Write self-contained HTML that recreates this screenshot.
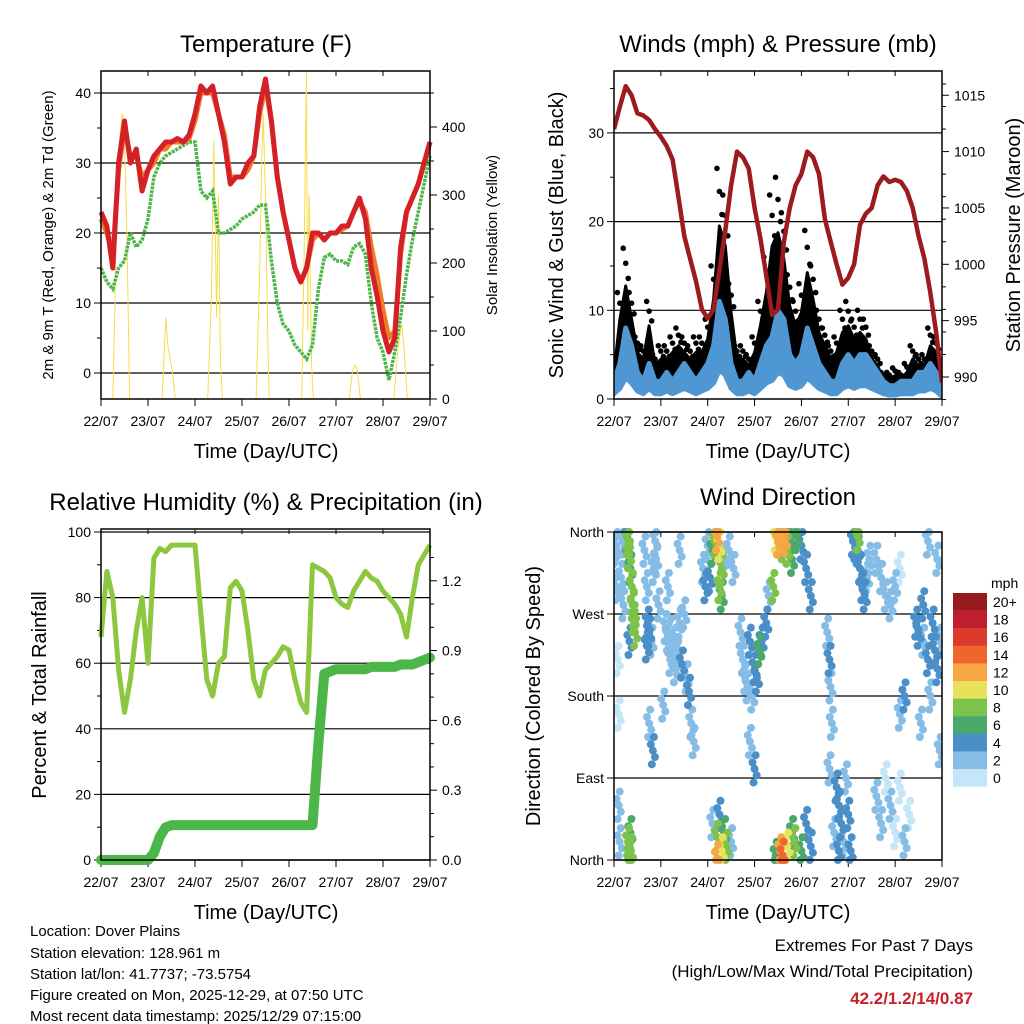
<!DOCTYPE html>
<html><head><meta charset="utf-8"><style>
body{margin:0;background:#fff}
svg{display:block;font-family:"Liberation Sans",sans-serif}
</style></head><body>
<svg id="s" width="1024" height="1024" viewBox="0 0 1024 1024" xmlns="http://www.w3.org/2000/svg">
<rect width="1024" height="1024" fill="#fff"/>
<g id="g1"></g>
<g id="g2"></g>
<g id="g3"></g>
<g id="g4"></g>
<text x="266" y="52" font-size="24" text-anchor="middle">Temperature (F)</text>
<text x="778" y="52" font-size="24" text-anchor="middle">Winds (mph) &amp; Pressure (mb)</text>
<text x="266" y="510" font-size="24" text-anchor="middle">Relative Humidity (%) &amp; Precipitation (in)</text>
<text x="778" y="505" font-size="24" text-anchor="middle">Wind Direction</text>
<text x="266" y="458" font-size="20" text-anchor="middle">Time (Day/UTC)</text>
<text x="778" y="458" font-size="20" text-anchor="middle">Time (Day/UTC)</text>
<text x="266" y="919" font-size="20" text-anchor="middle">Time (Day/UTC)</text>
<text x="778" y="919" font-size="20" text-anchor="middle">Time (Day/UTC)</text>
<text transform="translate(53,235) rotate(-90)" font-size="15" text-anchor="middle">2m &amp; 9m T (Red, Orange) &amp; 2m Td (Green)</text>
<text transform="translate(497,235) rotate(-90)" font-size="15" text-anchor="middle">Solar Insolation (Yellow)</text>
<text transform="translate(563,235) rotate(-90)" font-size="20" text-anchor="middle">Sonic Wind &amp; Gust (Blue, Black)</text>
<text transform="translate(1020,235) rotate(-90)" font-size="20" text-anchor="middle">Station Pressure (Maroon)</text>
<text transform="translate(46,695) rotate(-90)" font-size="20" text-anchor="middle">Percent &amp; Total Rainfall</text>
<text transform="translate(540,696) rotate(-90)" font-size="20" text-anchor="middle">Direction (Colored By Speed)</text>
<g font-size="15">
<text x="30" y="936">Location: Dover Plains</text>
<text x="30" y="958">Station elevation: 128.961 m</text>
<text x="30" y="979">Station lat/lon: 41.7737; -73.5754</text>
<text x="30" y="1000">Figure created on Mon, 2025-12-29, at 07:50 UTC</text>
<text x="30" y="1021">Most recent data timestamp: 2025/12/29 07:15:00</text>
</g>
<text x="973" y="951" font-size="17" text-anchor="end">Extremes For Past 7 Days</text>
<text x="973" y="977" font-size="17" text-anchor="end">(High/Low/Max Wind/Total Precipitation)</text>
<text x="973" y="1004" font-size="17" font-weight="bold" fill="#c8202a" text-anchor="end">42.2/1.2/14/0.87</text>
</svg>
<script>
const days=["22/07","23/07","24/07","25/07","26/07","27/07","28/07","29/07"];
const tempT=[23,21,15,30,36,30,32,26, 29,31,32,33,33,33.5,33,34, 37,41,40,41,37,33,27,28, 28,30,31,38,42,36,28,23, 19,15,13,15,20,20,19,20, 20,21,21,23,25,22,15,11, 6,3,5,18,23,25,27,30,33];
const temp9m=[22,20,17,29,35,31,31,28, 29,30,32,32,33,33,33,33.5, 36,40,40,40,37,34,28,28, 28,29,31,37,41,36,28,23, 19,15,13,15,19,20,19,20, 20,20.5,21,23,24.5,23,18,14, 9,5,6,17,23,25,27,30,33];
const dewT=[15,13,12,15,16,20,18,19, 22,28,30,31,31.5,32,32.5,33, 33,26,25,26,20,20,20.5,21, 22,22.5,23,24,24,16,10,7, 6,4,3,2,4,12,16.5,17, 16,16,15.5,18,18.5,17,10,5, 3,-1,3,8,14,19,23,27,31];
const solT=[0.25,0.30,0.33,0.38,0.45,0.50,0.55,0.58,0.61, 1.30,1.38,1.42,1.47,1.52,1.58, 2.27,2.35,2.38,2.40,2.43,2.46,2.50,2.54,2.58, 3.30,3.38,3.42,3.45,3.50,3.55,3.58, 4.27,4.32,4.37,4.40,4.43,4.48,4.52, 5.28,5.35,5.40,5.45,5.52, 6.23,6.30,6.35,6.40,6.45,6.52];
const solV=[0,150,300,370,420,380,250,120,0, 0,120,80,60,40,0, 0,150,300,380,250,120,300,60,0, 0,200,350,420,300,80,0, 0,200,480,100,300,50,0, 0,40,50,45,0, 0,60,90,110,70,0];
const windSpd=[2,4,8,6,3,2,4,2, 2,3,2,3,4,3,2,3, 4,6,11,9,4,2,2,3, 2,4,6,7,10,9,5,4, 5,8,6,4,3,2,2,4, 5,4,5,5,4,3,2,1.5, 1.5,2,2,2,3,3,4,3,1];
const windGust=[4,12,17,12,7,6,11,5, 6,6,7,8,7,6,7,7, 9,15,26,23,13,6,6,5, 7,11,16,23,25,21,14,11, 13,19,15,10,8,6,7,10, 11,9,10,9,6,5,3,3, 3.5,3,4,6,5,5,8,7,3];
const pressure=[1012,1014,1015.8,1015,1013.4,1013.2,1012.8,1012, 1011.3,1010.5,1009.3,1006,1002.5,1000.5,998.5,996, 995.2,996,999.5,1003,1007,1010,1009.5,1008.5, 1005,1002.3,999,995.5,996,1002,1005,1007, 1008,1010,1009.5,1008,1004,1002,1000,998.2, 998.8,1000,1003.5,1004.5,1005,1007,1007.8,1007.3, 1007.5,1007.3,1006.5,1005,1002.5,1000.5,997.5,994,989.5];
const rh=[68,88,80,58,45,55,70,80, 60,92,95,94,96,96,96,96, 96,75,55,50,60,62,83,85, 82,70,55,50,58,60,62,65, 64,55,48,45,90,89,88,86, 80,78,77,82,85,88,86,85, 82,80,78,75,68,80,90,93,96];
const precip=[0,0,0,0,0,0,0,0,0,0.03,0.1,0.14, 0.15,0.15,0.15,0.15,0.15,0.15,0.15,0.15,0.15,0.15,0.15,0.15,0.15,0.15,0.15,0.15,0.15,0.15,0.15,0.15,0.15,0.15,0.15,0.15,0.15, 0.5,0.8,0.81, 0.82,0.82,0.82,0.82,0.82,0.82, 0.83,0.83,0.83,0.83,0.83, 0.84,0.84,0.84, 0.85,0.86,0.87];
const dirT=[0.3,0.32,0.35,0.38,0.4,0.42,0.45,0.33,0.36,0.3,0.33,0.35,0.28, 0.02,0.05,0.08,0.1,0.12,0.15,0.05,0.1,0.18,0.2, 0.65,0.7,0.72,0.75,0.8,0.85,0.9,0.95,0.75,0.83,0.7,0.88, 1.1,1.15,1.2,1.25,1.3,1.35,1.4,1.45,1.5,1.55,1.6,1.65,1.7,1.2,1.3,1.05,1.15,1.4, 1.9,1.95,2.0,2.05,2.1,2.15,2.2,2.25,2.3,2.3,2.25,2.35,2.45,2.55,2.2,2.3,2.35,2.25,2.1,2.4,2.2,2.5, 2.7,2.75,2.8,2.85,2.9,2.95,3.0,3.05,3.1,3.15,3.25,3.3,2.9,3.0, 3.45,3.5,3.55,3.6,3.65,3.7,3.75,3.8,3.9,4.0,4.1,4.2,3.55,3.6,3.7,3.8,3.85,4.0,4.1,4.2,3.4,3.45, 4.55,4.6,4.62,4.65,4.6,4.75,4.8,4.85,4.9,5.0,5.05,4.7,4.95,4.8, 5.1,5.15,5.2,5.25,5.3,5.35,5.4,5.2,5.45, 5.6,5.7,5.8,5.9,6.0,6.1,5.6,5.7,5.8,5.9,6.0,6.1,6.2,6.3,6.1,6.2, 6.45,6.5,6.6,6.7,6.8,6.85,6.9,6.95,6.75,6.6,6.55,6.9,6.7,6.95];
const dirDeg=[350,335,320,300,280,265,250,240,10,20,5,30,355, 340,300,220,60,20,310,345,160,350,280, 340,300,260,250,240,320,330,280,150,120,235,350, 255,245,250,230,240,225,260,215,270,200,185,150,130,220,210,170,300,340, 320,300,345,310,340,350,355,345,320,290,300,330,340,320,25,10,30,50,40,15,2,20, 250,220,200,190,240,180,210,200,230,240,260,290,130,100, 355,350,358,345,352,340,355,330,355,345,320,290,10,5,15,30,20,10,40,15,300,5, 250,220,190,150,100,80,60,40,20,50,10,30,90,10, 350,345,340,320,300,290,310,355,330, 330,310,290,280,300,320,70,40,90,60,30,80,20,50,160,180, 260,250,240,220,260,230,210,240,180,280,150,330,350,120];
const dirSpd=[8,7,6,8,7,8,7,4,8,7,8,6,3, 1,1,0,1,2,2,2,0,1,2, 2,1,4,3,2,1,2,1,2,4,4,1, 2,2,2,1,2,1,2,4,2,1,4,2,1,2,1,1,2,1, 2,3,2,4,6,8,12,10,8,6,8,2,1,2,8,10,6,4,2,7,12,2, 2,1,2,1,3,2,4,4,6,4,4,2,1,3, 10,12,11,8,12,8,6,6,6,4,4,3,12,14,10,6,8,6,4,4,8,6, 2,3,2,2,1,3,3,4,2,3,4,2,2,3, 4,4,4,3,4,4,2,8,2, 1,2,1,2,1,0,2,2,0,2,0,0,1,0,2,3, 3,4,2,4,4,4,4,2,2,4,2,2,1,2];
const spdLabels=["20+","18","16","14","12","10","8","6","4","2","0"];
const spdColors=["#961b1e","#be1e2d","#dd3a2b","#f0652b","#f7a644","#e8e15a","#7dc24a","#4aa86c","#4a8fc8","#85bde6","#c4e6f8"];

const NS="http://www.w3.org/2000/svg";
function mk(p,tag,at,txt){const e=document.createElementNS(NS,tag);for(const k in at)e.setAttribute(k,at[k]);if(txt!==undefined)e.textContent=txt;p.appendChild(e);return e;}
function path(pts){return pts.map((p,i)=>(i?"L":"M")+p[0].toFixed(1)+","+p[1].toFixed(1)).join("");}
function frame(g,x0,y0,x1,y1,ticksL,labL,yL,ticksR,labR,yR,grid,minL,minR){
  grid.forEach(v=>{const l=mk(g,"line",{x1:x0,x2:x1,y1:yL(v),y2:yL(v),stroke:"#000","stroke-width":1.2});
    
    });
  const dx=(x1-x0)/7;
  for(let i=0;i<=7;i++){const x=x0+i*dx;
    mk(g,"line",{x1:x,x2:x,y1:y1,y2:y1+7,stroke:"#000","stroke-width":1});
    mk(g,"line",{x1:x,x2:x,y1:y0,y2:y0+5,stroke:"#000","stroke-width":1});
    const t=mk(g,"text",{x:x,y:y1+27,"font-size":14,"text-anchor":"middle"},days[i]);
    
    }
  ticksL.forEach((v,i)=>{const y=yL(v);mk(g,"line",{x1:x0-7,x2:x0,y1:y,y2:y,stroke:"#000"});
    const t=mk(g,"text",{x:x0-10,y:y+5,"font-size":14,"text-anchor":"end"},labL[i]);
    
    });
  (minL||[]).forEach(v=>mk(g,"line",{x1:x0-4,x2:x0,y1:yL(v),y2:yL(v),stroke:"#000"}));
  if(ticksR){ticksR.forEach((v,i)=>{const y=yR(v);mk(g,"line",{x1:x1,x2:x1+7,y1:y,y2:y,stroke:"#000"});
    const t=mk(g,"text",{x:x1+12,y:y+5,"font-size":14},labR[i]);
    
    });
  (minR||[]).forEach(v=>mk(g,"line",{x1:x1,x2:x1+4,y1:yR(v),y2:yR(v),stroke:"#000"}));}
}
function border(g,x0,y0,x1,y1){const r=mk(g,"rect",{x:x0,y:y0,width:x1-x0,height:y1-y0,fill:"none",stroke:"#000","stroke-width":1.5});
  
  }

// Panel 1
(function(){
  const g=document.getElementById("g1"),x0=101,x1=430,y0=71,y1=399;
  const X=t=>x0+t*(x1-x0)/7, Y=v=>373-7*v, S=v=>399-0.68*v;
  frame(g,x0,y0,x1,y1,[0,10,20,30,40],["0","10","20","30","40"],Y,[0,100,200,300,400],["0","100","200","300","400"],S,[0,10,20,30,40],[5,15,25,35],[50,150,250,350,450]);
  const sol=mk(g,"path",{d:path(solT.map((t,i)=>[X(t),S(solV[i])])),fill:"none",stroke:"#f8dc4a","stroke-width":1});
  
  
  const step=t=>t/8;
  const d=mk(g,"path",{d:path(dewT.map((v,i)=>[X(step(i)),Y(v)])),fill:"none",stroke:"#4cb648","stroke-width":3.5,"stroke-dasharray":"3 1"});
  
  
  const o=mk(g,"path",{d:path(temp9m.map((v,i)=>[X(step(i)),Y(v)])),fill:"none",stroke:"#f07b2a","stroke-width":5,"stroke-linejoin":"round"});
  
  
  const r=mk(g,"path",{d:path(tempT.map((v,i)=>[X(step(i)),Y(v)])),fill:"none",stroke:"#d42027","stroke-width":5,"stroke-linejoin":"round"});
  
  
  border(g,x0,y0,x1,y1);
})();

// Panel 2
(function(){
  const g=document.getElementById("g2"),x0=614,x1=942,y0=71,y1=399;
  const X=t=>x0+t*(x1-x0)/7, Y=v=>399-8.87*v, P=p=>377-11.27*(p-990);
  frame(g,x0,y0,x1,y1,[0,10,20,30],["0","10","20","30"],Y,[990,995,1000,1005,1010,1015],["990","995","1000","1005","1010","1015"],P,[10,20,30],[5,15,25,35],[988,992,994,996,998,1002,1004,1006,1008,1012,1014,1016]);
  const clip=mk(g,"clipPath",{id:"c2"});mk(clip,"rect",{x:x0,y:y0,width:x1-x0,height:y1-y0});
  const cg=mk(g,"g",{"clip-path":"url(#c2)"});
  const st=i=>i/8;
  const up=windGust.map((v,i)=>[X(st(i)),Y(v*0.75)]);
  const lo=windSpd.map((v,i)=>[X(st(i)),Y(v*0.6)]).reverse();
  const band=mk(cg,"path",{d:path(up.concat(lo))+"Z",fill:"#000","stroke":"#000","stroke-width":3,"stroke-linejoin":"round"});
  
  
  windGust.forEach((v,i)=>{
    [1,0.9,0.8].forEach((f,k)=>{const c=mk(cg,"circle",{cx:X(st(i))+(k-1)*2.5,cy:Y(v*f),r:2.8,fill:"#000"});
      
      });
  });
  const bu=windSpd.map((v,i)=>[X(st(i)),Y(v)]);
  const bb=windSpd.map((v,i)=>[X(st(i)),Y(v*0.3)]).reverse();
  const b=mk(cg,"path",{d:path(bu.concat(bb))+"Z",fill:"#4f97d2",stroke:"#4f97d2","stroke-width":5,"stroke-linejoin":"round"});
  
  
  const p=mk(cg,"path",{d:path(pressure.map((v,i)=>[X(st(i)),P(v)])),fill:"none",stroke:"#9b1b1f","stroke-width":4.5,"stroke-linejoin":"round"});
  
  
  border(g,x0,y0,x1,y1);
})();

// Panel 3
(function(){
  const g=document.getElementById("g3"),x0=101,x1=430,y0=529,y1=860;
  const X=t=>x0+t*(x1-x0)/7, Y=v=>860-3.28*v, R=v=>860-232.7*v;
  frame(g,x0,y0,x1,y1,[0,20,40,60,80,100],["0","20","40","60","80","100"],Y,[0,0.3,0.6,0.9,1.2],["0.0","0.3","0.6","0.9","1.2"],R,[0,20,40,60,80,100],[10,30,50,70,90],[0.1,0.2,0.4,0.5,0.7,0.8,1.0,1.1,1.3]);
  const st=i=>i/8;
  const h=mk(g,"path",{d:path(rh.map((v,i)=>[X(st(i)),Y(v)])),fill:"none",stroke:"#8dc63f","stroke-width":5,"stroke-linejoin":"round"});
  
  
  const pr=mk(g,"path",{d:path(precip.map((v,i)=>[X(st(i)),R(v)])),fill:"none",stroke:"#4cb648","stroke-width":10,"stroke-linejoin":"round","stroke-linecap":"round"});
  
  
  border(g,x0,y0,x1,y1);
})();

// Panel 4
(function(){
  const g=document.getElementById("g4"),x0=614,x1=942,y0=532,y1=860;
  const X=t=>x0+t*(x1-x0)/7, Y=d=>860-d*328/360;
  frame(g,x0,y0,x1,y1,[0,90,180,270,360],["North","East","South","West","North"],Y,null,null,null,[0,90,180,270,360]);
  const col=s=>{const k=Math.min(10,Math.max(0,Math.round(s/2)));return spdColors[10-k];};
  const order=dirSpd.map((s,i)=>i).sort((a,b)=>dirSpd[a]-dirSpd[b]);
  const echo=[[0,0],[-0.045,7],[0.045,-7],[0.022,15],[-0.022,-15]];
  const clip=mk(g,"clipPath",{id:"c4"});mk(clip,"rect",{x:x0,y:y0-4,width:x1-x0,height:y1-y0+8});
  const cg=mk(g,"g",{"clip-path":"url(#c4)"});
  order.forEach(i=>{echo.forEach(e=>{
    const dd=Math.min(360,Math.max(0,dirDeg[i]+e[1]));
    const c=mk(cg,"circle",{cx:X(dirT[i]+e[0]),cy:Y(dd),r:4,fill:col(dirSpd[i])});
    
    });});
  border(g,x0,y0,x1,y1);
  const cb=mk(g,"g",{});
  
  
  mk(cb,"text",{x:991,y:588,"font-size":14},"mph");
  spdLabels.forEach((l,i)=>{const y=593+i*17.6;
    mk(cb,"rect",{x:953,y:y,width:34,height:17.8,fill:spdColors[i]});
    mk(cb,"text",{x:993,y:y+14,"font-size":14},l);});
})();
</script>
</body></html>
